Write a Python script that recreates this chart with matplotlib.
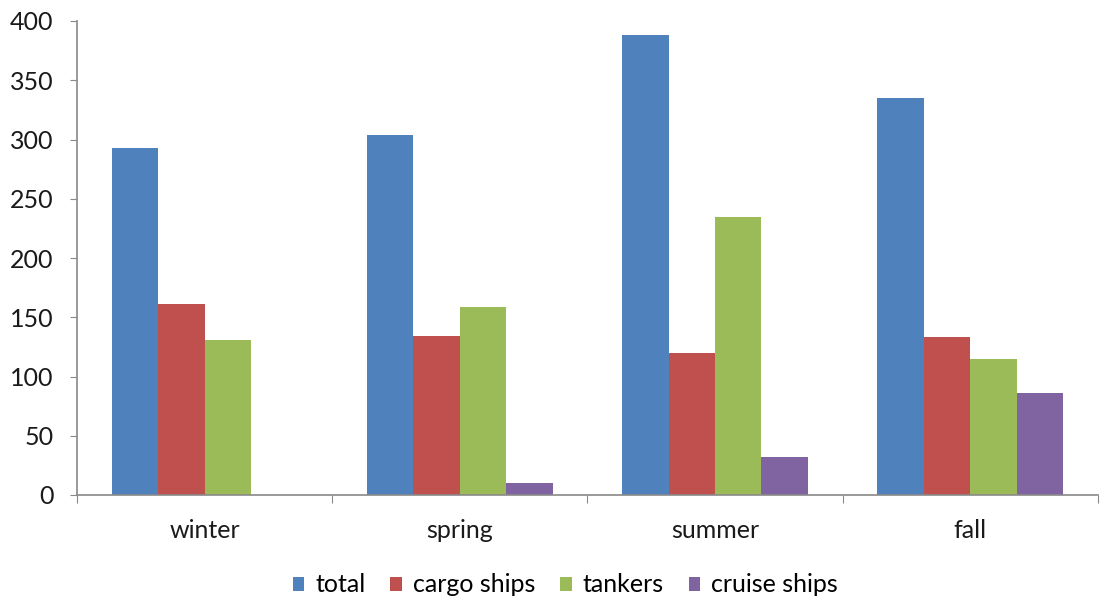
import matplotlib
matplotlib.use("Agg")
import matplotlib.pyplot as plt
import numpy as np
from matplotlib.patches import Patch

seasons = ["winter", "spring", "summer", "fall"]
series_names = ["total", "cargo ships", "tankers", "cruise ships"]
total = [293, 304, 388, 335]
cargo_ships = [161, 134, 120, 133]
tankers = [131, 159, 235, 115]
cruise_ships = [0, 10, 32, 86]
colors = ["#4F81BD", "#C0504D", "#9BBB59", "#8064A2"]

plt.rcParams["font.family"] = ["Lato", "DejaVu Sans"]

fig = plt.figure(figsize=(11, 6), dpi=100)
ax = fig.add_axes([0.07, 0.175, 0.928, 0.79])

values = [total, cargo_ships, tankers, cruise_ships]
n = len(values)
bar_w = 1.0 / 5.5
x = np.arange(len(seasons))
for i, (vals, col) in enumerate(zip(values, colors)):
    offs = -n * bar_w / 2 + bar_w * (i + 0.5)
    ax.bar(x + offs, vals, width=bar_w, color=col, edgecolor="none", zorder=2)

ax.set_xlim(-0.5, len(seasons) - 0.5)
ax.set_ylim(0, 400)
ax.set_yticks(range(0, 401, 50))
ax.tick_params(axis="y", labelsize=18, length=5, color="#898989",
               labelcolor="#1a1a1a", pad=12)

# category labels centred, tick marks at category boundaries
ax.set_xticks(np.arange(-0.5, len(seasons), 1.0))
ax.set_xticklabels([])
ax.set_xticks(x, minor=True)
ax.set_xticklabels(seasons, minor=True)
ax.tick_params(axis="x", which="major", length=6, color="#898989", direction="out")
ax.tick_params(axis="x", which="minor", length=0, labelsize=18,
               labelcolor="#1a1a1a", pad=17)

for side in ["top", "right"]:
    ax.spines[side].set_visible(False)
for side in ["left", "bottom"]:
    ax.spines[side].set_color("#898989")
    ax.spines[side].set_linewidth(1.2)

handles = [Patch(facecolor=c, edgecolor="none") for c in colors]
fig.legend(handles, series_names, loc="center", bbox_to_anchor=(0.514, 0.025),
           ncol=4, frameon=False, fontsize=18, handlelength=0.45,
           handleheight=0.5, handletextpad=0.45, columnspacing=1.0)

fig.savefig("out.png", dpi=100, facecolor="white")
